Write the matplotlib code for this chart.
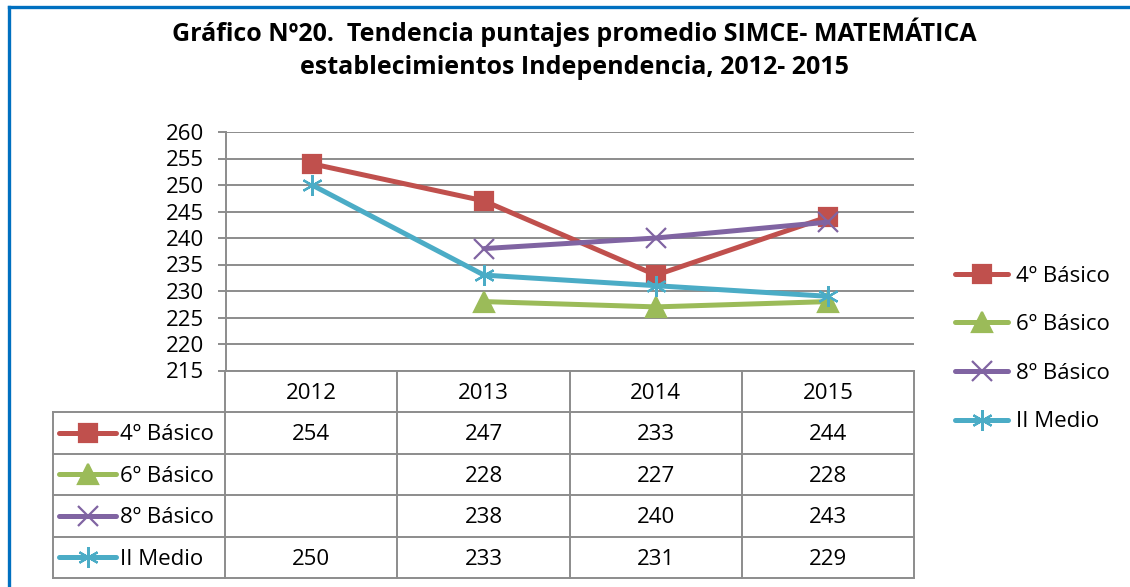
import matplotlib
matplotlib.use("Agg")
import matplotlib.pyplot as plt
from matplotlib.lines import Line2D

plt.rcParams['font.family'] = ['Open Sans', 'DejaVu Sans']

# data
years = ['2012', '2013', '2014', '2015']
series_names = ['4º Básico', '6º Básico', '8º Básico', 'II Medio']
basico4 = [254, 247, 233, 244]
basico6 = [None, 228, 227, 228]
basico8 = [None, 238, 240, 243]
medio2 = [250, 233, 231, 229]
yticks = list(range(215, 261, 5))

series = [basico4, basico6, basico8, medio2]
colors = ['#C0504D', '#9BBB59', '#8064A2', '#4BACC6']
markers = ['s', '^', 'x', (6, 2, 0)]
msizes = [13, 14, 14, 15]

W, H = 1130, 587
fig = plt.figure(figsize=(W / 100, H / 100), dpi=100)


def box(x0, y0, x1, y1):
    # pixel box (top-left origin) -> figure fraction
    return [x0 / W, 1 - y1 / H, (x1 - x0) / W, (y1 - y0) / H]


grid_c = '#8C8C8C'
blue = '#0070C0'

# blue frame, only top and left edges are inside the crop
fig.add_artist(Line2D([9 / W, 1], [1 - 6.5 / H, 1 - 6.5 / H], color=blue, lw=2.4,
                      transform=fig.transFigure))
fig.add_artist(Line2D([9 / W, 9 / W], [0, 1 - 6.5 / H], color=blue, lw=2.4,
                      transform=fig.transFigure))

fig.text(574 / W, 1 - 32 / H,
         'Gráfico Nº20.  Tendencia puntajes promedio SIMCE- MATEMÁTICA',
         ha='center', va='center', fontsize=18, fontweight='bold')
fig.text(574 / W, 1 - 67 / H,
         'establecimientos Independencia, 2012- 2015',
         ha='center', va='center', fontsize=18, fontweight='bold')

# main plot
ax = fig.add_axes(box(226, 132, 914, 370.5))
xs = range(len(years))
for vals, c, m, ms in zip(series, colors, markers, msizes):
    pts = [(x, v) for x, v in zip(xs, vals) if v is not None]
    ax.plot([p[0] for p in pts], [p[1] for p in pts], color=c, lw=3.6,
            marker=m, markersize=ms, markeredgewidth=1.6, zorder=3,
            solid_capstyle='round')
ax.set_xlim(-0.5, 3.5)
ax.set_ylim(215, 260)
ax.set_yticks(yticks)
ax.set_xticks([])
ax.grid(axis='y', color=grid_c, lw=1.4)
for s in ['top', 'right']:
    ax.spines[s].set_visible(False)
for s in ['left', 'bottom']:
    ax.spines[s].set_color(grid_c)
    ax.spines[s].set_linewidth(1.4)
ax.tick_params(axis='y', length=6, color=grid_c, width=1.4, labelsize=16, pad=10)

# data table
tab = fig.add_axes(box(53, 370.5, 914, 578))
tab.set_xlim(-1.5, 3.5)
tab.set_ylim(5, 0)
tab.axis('off')
lk = dict(color=grid_c, lw=1.4, clip_on=False)
for y in range(1, 6):
    tab.plot([-1.5, 3.5], [y, y], **lk)
tab.plot([-1.5, -1.5], [1, 5], **lk)
for x in [-0.5, 0.5, 1.5, 2.5, 3.5]:
    tab.plot([x, x], [0, 5], **lk)
for i, yr in enumerate(years):
    tab.text(i, 0.55, yr, ha='center', va='center', fontsize=16)
for r, (name, vals, c, m, ms) in enumerate(zip(series_names, series, colors, markers, msizes)):
    yc = r + 1.5
    for i, v in enumerate(vals):
        if v is not None:
            tab.text(i, yc + 0.05, str(v), ha='center', va='center', fontsize=16)
    hx0, hx1 = -1.5 + 6 / 172, -1.5 + 63 / 172
    tab.plot([hx0, hx1], [yc, yc], color=c, lw=3.6, solid_capstyle='round')
    tab.plot([(hx0 + hx1) / 2], [yc], color=c, marker=m, markersize=ms,
             markeredgewidth=1.6)
    tab.text(-1.5 + 67 / 172, yc + 0.05, name, ha='left', va='center', fontsize=16)

# legend
handles = [Line2D([], [], color=c, lw=3.6, marker=m, markersize=ms,
                  markeredgewidth=1.6, solid_capstyle='round')
           for c, m, ms in zip(colors, markers, msizes)]
fig.legend(handles, series_names, loc='center left',
           bbox_to_anchor=(944 / W, 1 - 349 / H), frameon=False,
           fontsize=16, handlelength=2.4, handletextpad=0.35,
           labelspacing=1.24, borderpad=0)

fig.savefig('out.png', dpi=100)
